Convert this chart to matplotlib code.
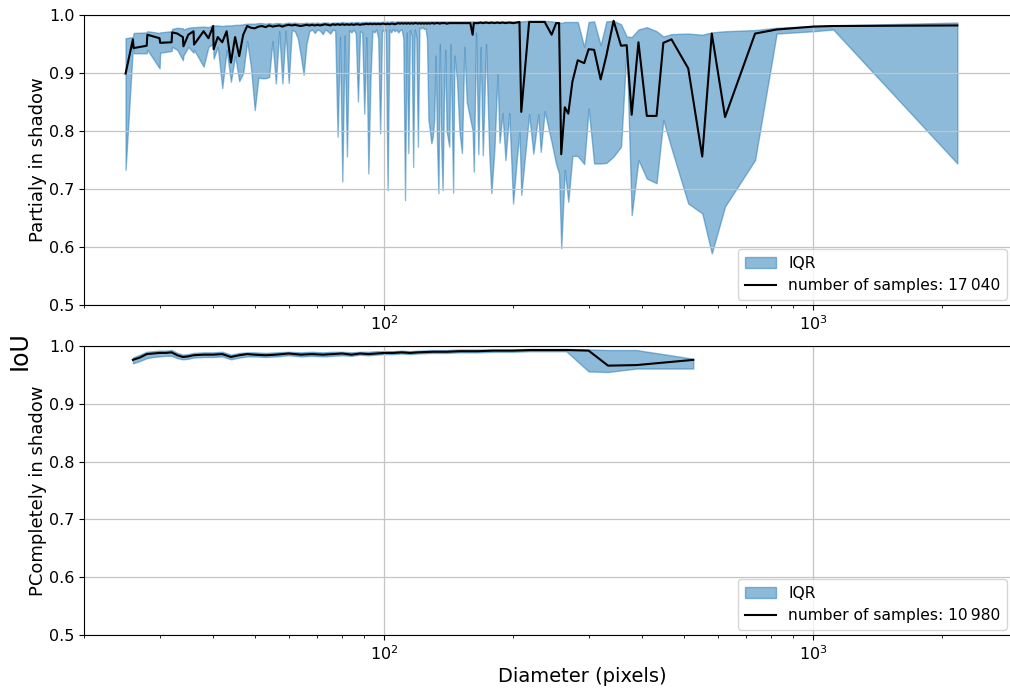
import matplotlib.pyplot as plt
import numpy as np

# --- partially in shadow: diameter (px), lower quartile, median, upper quartile ---
diam_partial = [
    25, 26, 26.1, 28, 28.1, 30, 30.1, 32, 32.1, 33, 34, 34.1, 35, 36, 36.1,
    38, 39, 40, 40.1, 41, 42, 43, 44, 45, 46, 47, 48, 49, 50, 51,
    52, 53, 54, 55, 56, 57, 58, 59, 60, 61, 62, 63, 64, 65, 66, 67, 68, 69, 70,
    71, 72, 73, 74, 75, 76, 77, 78, 79, 80, 81, 82, 83, 84, 85, 86, 87, 88, 89,
    90, 91, 92, 93, 94, 95, 96, 97, 98, 99, 100,
    101, 102, 103, 104, 105, 106, 107, 108, 109, 110, 111, 112, 113, 114, 115,
    116, 117, 118, 119, 120, 121, 122, 123, 124, 125, 126,
    127, 128, 129, 130, 131, 132, 133, 134, 135, 136, 137, 138, 139, 140,
    142, 143, 145, 146, 148, 150, 152, 154, 156, 159,
    161, 162, 164, 166, 168, 170, 173, 176, 178, 181,
    184, 186, 189, 192, 196, 200, 204, 207, 209, 218,
    223, 229, 232, 237, 246, 252, 256,
    259, 264, 269, 275, 283, 293, 300, 309, 320, 330, 343, 357, 368, 378,
    392, 410, 432, 448, 468, 512, 552, 581, 624, 733, 823, 1002, 1115, 2170,
]
q1_partial = [
    0.733, 0.945, 0.934, 0.934, 0.940, 0.908, 0.935, 0.938, 0.945, 0.940, 0.922, 0.930, 0.945, 0.935, 0.940,
    0.911, 0.945, 0.950, 0.925, 0.945, 0.874, 0.940, 0.885, 0.930, 0.886, 0.900, 0.955, 0.910, 0.836, 0.892,
    0.891, 0.891, 0.893, 0.955, 0.882, 0.972, 0.882, 0.973, 0.883, 0.974, 0.972, 0.960, 0.930, 0.897, 0.950, 0.972, 0.975, 0.969, 0.975,
    0.973, 0.967, 0.975, 0.972, 0.968, 0.975, 0.973, 0.790, 0.962, 0.713, 0.965, 0.756, 0.974, 0.970, 0.975, 0.968, 0.851, 0.972, 0.970,
    0.830, 0.962, 0.727, 0.885, 0.973, 0.970, 0.975, 0.960, 0.796, 0.974, 0.972,
    0.975, 0.698, 0.975, 0.970, 0.976, 0.972, 0.975, 0.970, 0.974, 0.975, 0.960, 0.681, 0.970, 0.762, 0.974,
    0.965, 0.738, 0.975, 0.960, 0.773, 0.978, 0.977, 0.979, 0.976, 0.977, 0.960,
    0.820, 0.800, 0.779, 0.790, 0.820, 0.930, 0.780, 0.693, 0.950, 0.780, 0.698, 0.850, 0.940, 0.800,
    0.773, 0.950, 0.694, 0.930, 0.888, 0.800, 0.762, 0.945, 0.850, 0.820,
    0.800, 0.730, 0.970, 0.760, 0.945, 0.758, 0.950, 0.762, 0.693, 0.770,
    0.900, 0.780, 0.831, 0.750, 0.831, 0.675, 0.750, 0.800, 0.690, 0.829,
    0.761, 0.829, 0.764, 0.834, 0.780, 0.743, 0.727,
    0.598, 0.733, 0.678, 0.757, 0.757, 0.743, 0.839, 0.744, 0.744, 0.745, 0.756, 0.773, 0.945, 0.655,
    0.750, 0.718, 0.710, 0.819, 0.770, 0.675, 0.658, 0.589, 0.670, 0.750, 0.968, 0.972, 0.975, 0.744,
]
med_partial = [
    0.899, 0.958, 0.943, 0.947, 0.966, 0.960, 0.952, 0.953, 0.970, 0.968, 0.962, 0.946, 0.966, 0.972, 0.949,
    0.972, 0.960, 0.981, 0.941, 0.962, 0.953, 0.972, 0.918, 0.962, 0.929, 0.966, 0.981, 0.978, 0.977, 0.980,
    0.981, 0.979, 0.982, 0.980, 0.981, 0.982, 0.980, 0.982, 0.983, 0.982, 0.983, 0.982, 0.981, 0.982, 0.983, 0.982, 0.983, 0.982, 0.983,
    0.982, 0.983, 0.984, 0.983, 0.982, 0.984, 0.983, 0.984, 0.983, 0.984, 0.983, 0.984, 0.983, 0.984, 0.983, 0.984, 0.984, 0.983, 0.984,
    0.984, 0.985, 0.984, 0.985, 0.984, 0.985, 0.984, 0.985, 0.984, 0.985, 0.985,
    0.984, 0.985, 0.984, 0.985, 0.985, 0.984, 0.985, 0.986, 0.985, 0.986, 0.985, 0.986, 0.985, 0.986, 0.985,
    0.986, 0.985, 0.986, 0.986, 0.985, 0.986, 0.985, 0.986, 0.985, 0.986, 0.985,
    0.986, 0.985, 0.986, 0.986, 0.985, 0.986, 0.986, 0.986, 0.985, 0.986, 0.986, 0.986, 0.986, 0.985,
    0.986, 0.986, 0.986, 0.986, 0.986, 0.986, 0.986, 0.986, 0.986, 0.986,
    0.966, 0.986, 0.986, 0.986, 0.987, 0.986, 0.987, 0.986, 0.987, 0.986,
    0.987, 0.986, 0.987, 0.986, 0.987, 0.986, 0.987, 0.988, 0.833, 0.988,
    0.988, 0.988, 0.988, 0.988, 0.966, 0.986, 0.986,
    0.760, 0.841, 0.830, 0.885, 0.922, 0.917, 0.941, 0.940, 0.889, 0.930, 0.990, 0.947, 0.948, 0.828,
    0.953, 0.826, 0.826, 0.952, 0.958, 0.908, 0.756, 0.968, 0.824, 0.968, 0.975, 0.980, 0.981, 0.982,
]
q3_partial = [
    0.960, 0.962, 0.969, 0.970, 0.972, 0.969, 0.970, 0.972, 0.976, 0.978, 0.977, 0.975, 0.978, 0.979, 0.979,
    0.980, 0.979, 0.983, 0.982, 0.982, 0.981, 0.982, 0.982, 0.983, 0.983, 0.984, 0.985, 0.985, 0.985, 0.986,
    0.986, 0.985, 0.986, 0.985, 0.986, 0.986, 0.985, 0.986, 0.987, 0.986, 0.987, 0.986, 0.986, 0.986, 0.987, 0.986, 0.987, 0.986, 0.987,
    0.986, 0.987, 0.987, 0.987, 0.986, 0.987, 0.987, 0.987, 0.987, 0.988, 0.987, 0.987, 0.987, 0.988, 0.987, 0.988, 0.988, 0.987, 0.988,
    0.988, 0.988, 0.988, 0.988, 0.988, 0.988, 0.988, 0.988, 0.988, 0.988, 0.989,
    0.988, 0.989, 0.988, 0.989, 0.989, 0.988, 0.989, 0.989, 0.989, 0.989, 0.989, 0.989, 0.989, 0.989, 0.989,
    0.989, 0.989, 0.989, 0.989, 0.989, 0.989, 0.989, 0.989, 0.989, 0.989, 0.989,
    0.989, 0.989, 0.989, 0.989, 0.989, 0.989, 0.989, 0.989, 0.989, 0.989, 0.989, 0.989, 0.989, 0.989,
    0.989, 0.989, 0.989, 0.989, 0.989, 0.989, 0.989, 0.989, 0.989, 0.989,
    0.989, 0.989, 0.989, 0.989, 0.989, 0.989, 0.989, 0.989, 0.989, 0.989,
    0.989, 0.989, 0.989, 0.989, 0.989, 0.989, 0.989, 0.989, 0.989, 0.990,
    0.990, 0.990, 0.990, 0.990, 0.989, 0.988, 0.988,
    0.986, 0.988, 0.988, 0.988, 0.988, 0.945, 0.988, 0.989, 0.948, 0.989, 0.990, 0.984, 0.963, 0.962,
    0.975, 0.979, 0.972, 0.963, 0.967, 0.968, 0.966, 0.970, 0.972, 0.974, 0.978, 0.981, 0.982, 0.987,
]
n_partial = "17\u2009040"

# --- completely in shadow ---
diam_complete = [
    26, 27, 28, 29, 30, 31, 32, 33, 34, 35, 36, 38, 40, 42, 44, 46, 48, 50, 53, 56,
    60, 64, 68, 72, 76, 80, 84, 88, 92, 96, 100, 105, 110, 115, 120, 130, 140, 150,
    165, 180, 200, 220, 240, 266, 300, 333, 388, 526,
]
q1_complete = [
    0.970, 0.974, 0.979, 0.981, 0.982, 0.983, 0.983, 0.979, 0.977, 0.978,
    0.980, 0.981, 0.981, 0.982, 0.977, 0.980, 0.982, 0.982, 0.981, 0.982,
    0.984, 0.982, 0.983, 0.982, 0.983, 0.984, 0.983, 0.985, 0.984, 0.985,
    0.986, 0.986, 0.987, 0.986, 0.987, 0.988, 0.988, 0.989, 0.989, 0.990,
    0.990, 0.991, 0.991, 0.991, 0.956, 0.955, 0.961, 0.961,
]
med_complete = [
    0.976, 0.980, 0.986, 0.987, 0.988, 0.988, 0.989, 0.984, 0.981, 0.982,
    0.984, 0.985, 0.985, 0.986, 0.981, 0.984, 0.986, 0.985, 0.984, 0.985,
    0.987, 0.985, 0.986, 0.985, 0.986, 0.987, 0.985, 0.987, 0.986, 0.987,
    0.988, 0.988, 0.989, 0.988, 0.989, 0.990, 0.990, 0.991, 0.991, 0.992,
    0.992, 0.993, 0.993, 0.993, 0.992, 0.966, 0.967, 0.976,
]
q3_complete = [
    0.980, 0.985, 0.990, 0.991, 0.992, 0.992, 0.993, 0.988, 0.985, 0.986,
    0.988, 0.989, 0.989, 0.990, 0.985, 0.988, 0.989, 0.989, 0.988, 0.989,
    0.990, 0.989, 0.990, 0.989, 0.990, 0.990, 0.989, 0.990, 0.990, 0.991,
    0.991, 0.991, 0.992, 0.991, 0.992, 0.993, 0.993, 0.994, 0.994, 0.994,
    0.994, 0.995, 0.995, 0.995, 0.994, 0.993, 0.993, 0.978,
]
n_complete = "10\u2009980"

yticks = [0.5, 0.6, 0.7, 0.8, 0.9, 1.0]

fig = plt.figure(figsize=(10.1, 6.9), dpi=100)
# the axes run a few pixels past the right edge of the picture, as in the original
ax_top = fig.add_axes([84 / 1010, 1 - 305 / 690, 928 / 1010, 290 / 690])
ax_bot = fig.add_axes([84 / 1010, 1 - 635 / 690, 928 / 1010, 289 / 690])

panels = [
    (ax_top, diam_partial, q1_partial, med_partial, q3_partial, n_partial, "Partialy in shadow"),
    (ax_bot, diam_complete, q1_complete, med_complete, q3_complete, n_complete, "PCompletely in shadow"),
]

for ax, d, q1, med, q3, n, label in panels:
    ax.fill_between(d, q1, q3, color="tab:blue", alpha=0.5, label="IQR")
    ax.plot(d, med, color="black", lw=1.5, label=f"number of samples: {n}")
    ax.set_xscale("log")
    ax.set_xlim(20, 2910)
    ax.set_ylim(0.5, 1.0)
    ax.set_yticks(yticks)
    ax.set_yticklabels([f"{v:.1f}" for v in yticks])
    ax.grid(True, color="#c4c4c4", lw=0.9)
    ax.tick_params(labelsize=11.5)
    ax.set_ylabel(label, fontsize=13, labelpad=1.5)
    ax.legend(loc="lower right", fontsize=11.2, borderaxespad=0.35)

fig.text(582 / 1010, 1 - 677 / 690, "Diameter (pixels)", ha="center", va="center", fontsize=14)
fig.text(20 / 1010, 1 - 351 / 690, "IoU", rotation=90, ha="center", va="center", fontsize=17)

fig.savefig("out.png", dpi=100)
